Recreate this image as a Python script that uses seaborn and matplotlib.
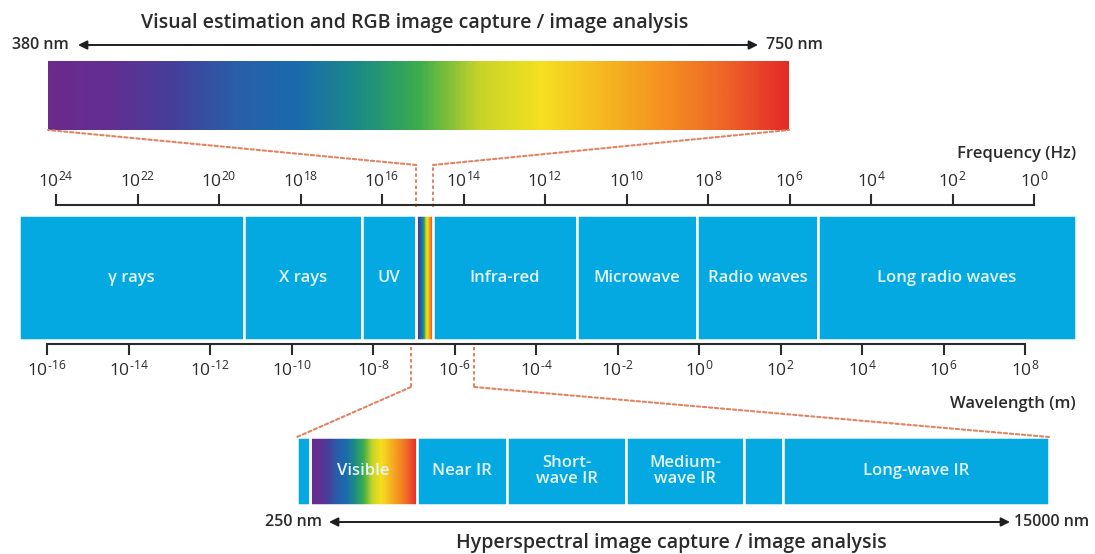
import numpy as np
import matplotlib
matplotlib.use("Agg")
import matplotlib.pyplot as plt
import matplotlib.transforms as mtransforms
from matplotlib.patches import ConnectionPatch
import seaborn as sns

# main bar: band edges as log10(wavelength in m)
band_labels = ["γ rays", "X rays", "UV", "", "Infra-red", "Microwave", "Radio waves", "Long radio waves"]
band_edges = [-16.69, -11.17, -8.27, -6.94, -6.53, -3.0, -0.05, 2.92, 9.25]
visible_band = 3  # thin rainbow strip

wl_exponents = list(range(-16, 9, 2))
freq_exponents = list(range(24, -1, -2))
freq_shift = 8.22  # log10(f) = freq_shift - log10(wavelength), as drawn

# part of the wavelength axis blown up in the lower bar
hs_window = [-7.07, -5.52]

# top gradient range (nm)
vis_nm = [380, 750]

# lower (hyperspectral) bar, schematic cell widths
hs_labels = ["", "Visible", "Near IR", "Short-\nwave IR", "Medium-\nwave IR", "", "Long-wave IR"]
hs_widths = [13, 107, 90, 119, 118, 39, 266]
hs_visible = 1
hs_range = ["250 nm", "15000 nm"]

spectrum_colors = ["#6b2a8c", "#622f92", "#453f9a", "#2a5ea8", "#1a6aae", "#1c8a88", "#3aad4c",
                   "#c8d428", "#f5e020", "#f6b820", "#f59020", "#ee6428", "#e52a28"]

sns.set_theme(style="white")
plt.rcParams["font.family"] = ["Open Sans", "DejaVu Sans"]
plt.rcParams["mathtext.fontset"] = "custom"
plt.rcParams["mathtext.rm"] = "Open Sans"
plt.rcParams["mathtext.it"] = "Open Sans:italic"
plt.rcParams["mathtext.bf"] = "Open Sans:bold"

band_blue = "#04a9e1"
label_col = "#e4f5fc"
ink = "#2b2b2b"
dash_col = "#e08462"
dash_ls = (0, (1.6, 1.3))

spec_cmap = sns.blend_palette(spectrum_colors, as_cmap=True)

W, H = 1095, 554
fig = plt.figure(figsize=(W / 100, H / 100), dpi=100)


def box(x0, y0, x1, y1):
    return fig.add_axes([x0 / W, 1 - y1 / H, (x1 - x0) / W, (y1 - y0) / H])


def gradient(ax, x0, x1):
    g = np.linspace(0, 1, 400)[None, :]
    ax.imshow(g, cmap=spec_cmap, aspect="auto", extent=[x0, x1, 0, 1], zorder=1)


def power(e):
    # short hyphen instead of the long math minus
    return r"$\mathregular{10^{%s}}$" % str(e).replace("-", "\u2010")


# overlay for titles / arrows
ov = box(0, 0, W, H)
ov.set_xlim(0, W)
ov.set_ylim(H, 0)
ov.axis("off")

# top visible gradient
ax_top = box(48, 61, 789, 130)
gradient(ax_top, vis_nm[0], vis_nm[1])
ax_top.set_xlim(vis_nm)
ax_top.set_ylim(0, 1)
ax_top.axis("off")

# main spectrum bar
ax_band = box(19, 215, 1076, 340)
lefts = band_edges[:-1]
widths = np.diff(band_edges)
for i, (l, w, name) in enumerate(zip(lefts, widths, band_labels)):
    if i == visible_band:
        gradient(ax_band, l, l + w)
        ax_band.barh(0.5, w, left=l, height=1, color="none", edgecolor="white", lw=1.8, zorder=2)
    else:
        ax_band.barh(0.5, w, left=l, height=1, color=band_blue, edgecolor="white", lw=1.8, zorder=2)
    if name:
        ax_band.text(l + w / 2, 0.5, name, ha="center", va="center", color=label_col,
                     fontsize=12, fontweight="semibold", zorder=3)
ax_band.set_xlim(band_edges[0], band_edges[-1])
ax_band.set_ylim(0, 1)
ax_band.set_facecolor("none")
for s in ["left", "right", "top"]:
    ax_band.spines[s].set_visible(False)
ax_band.spines["bottom"].set_position(("outward", 3))
ax_band.spines["bottom"].set_bounds(wl_exponents[0], wl_exponents[-1])
ax_band.spines["bottom"].set_color(ink)
ax_band.spines["bottom"].set_linewidth(1.5)
ax_band.set_yticks([])
ax_band.set_xticks(wl_exponents, [power(e) for e in wl_exponents])
ax_band.tick_params(axis="x", bottom=True, direction="out", length=8, width=1.5,
                    color=ink, labelcolor=ink, labelsize=12.5, pad=3)

# frequency scale on top
ax_freq = ax_band.twiny()
ax_freq.set_xlim(freq_shift - band_edges[0], freq_shift - band_edges[-1])
for s in ["left", "right", "bottom"]:
    ax_freq.spines[s].set_visible(False)
ax_freq.spines["top"].set_position(("outward", 7))
ax_freq.spines["top"].set_bounds(freq_exponents[-1], freq_exponents[0])
ax_freq.spines["top"].set_color(ink)
ax_freq.spines["top"].set_linewidth(1.5)
ax_freq.set_xticks(freq_exponents, [power(e) for e in freq_exponents])
ax_freq.tick_params(axis="x", top=True, direction="out", length=8, width=1.5,
                    color=ink, labelcolor=ink, labelsize=12.5, pad=3)

# hyperspectral bar
ax_hs = box(297, 437, 1049, 505)
hs_edges = np.concatenate([[0], np.cumsum(hs_widths)])
for i, (l, w, name) in enumerate(zip(hs_edges[:-1], hs_widths, hs_labels)):
    if i == hs_visible:
        gradient(ax_hs, l, l + w)
        ax_hs.barh(0.5, w, left=l, height=1, color="none", edgecolor="white", lw=1.8, zorder=2)
    else:
        ax_hs.barh(0.5, w, left=l, height=1, color=band_blue, edgecolor="white", lw=1.8, zorder=2)
    if name:
        ax_hs.text(l + w / 2, 0.5, name, ha="center", va="center", color=label_col,
                   fontsize=12, fontweight="semibold", linespacing=0.95, zorder=3)
ax_hs.set_xlim(0, hs_edges[-1])
ax_hs.set_ylim(0, 1)
ax_hs.axis("off")

# dashed zoom connectors
blend = mtransforms.blended_transform_factory(ax_band.transData, ax_band.transAxes)


def connector(x, y0, y1, target, corner):
    ax_band.plot([x, x], [y0, y1], transform=blend, clip_on=False, color=dash_col, lw=1.5, ls=dash_ls)
    fig.add_artist(ConnectionPatch(xyA=(x, y1), coordsA=blend, xyB=corner, coordsB=target.transAxes,
                                   color=dash_col, lw=1.5, ls=dash_ls))


vis_lo, vis_hi = band_edges[visible_band], band_edges[visible_band + 1]
connector(vis_lo, 1.064, 1.40, ax_top, (0, 0))
connector(vis_hi, 1.064, 1.40, ax_top, (1, 0))
connector(hs_window[0], -0.056, -0.376, ax_hs, (0, 1))
connector(hs_window[1], -0.056, -0.376, ax_hs, (1, 1))

# titles, range arrows and axis names
arrow = dict(arrowstyle="<|-|>", color="#1e1e1e", lw=1.4, mutation_scale=13, shrinkA=0, shrinkB=0)
ov.text(415, 23, "Visual estimation and RGB image capture / image analysis", ha="center", va="center",
        fontsize=14, fontweight="semibold", color=ink)
ov.text(69, 45, "%d nm" % vis_nm[0], ha="right", va="center", fontsize=11.5, fontweight="semibold", color=ink)
ov.text(766, 45, "%d nm" % vis_nm[1], ha="left", va="center", fontsize=11.5, fontweight="semibold", color=ink)
ov.annotate("", xy=(758, 45), xytext=(78, 45), arrowprops=arrow)

ov.text(1076, 154, "Frequency (Hz)", ha="right", va="center", fontsize=12, fontweight="semibold", color=ink)
ov.text(1076, 404, "Wavelength (m)", ha="right", va="center", fontsize=12, fontweight="semibold", color=ink)

ov.text(322, 522, hs_range[0], ha="right", va="center", fontsize=11.5, fontweight="semibold", color=ink)
ov.text(1014, 522, hs_range[1], ha="left", va="center", fontsize=11.5, fontweight="semibold", color=ink)
ov.annotate("", xy=(1010, 522), xytext=(329, 522), arrowprops=arrow)
ov.text(671, 543, "Hyperspectral image capture / image analysis", ha="center", va="center",
        fontsize=14, fontweight="semibold", color=ink)

fig.savefig("out.png", dpi=100)
